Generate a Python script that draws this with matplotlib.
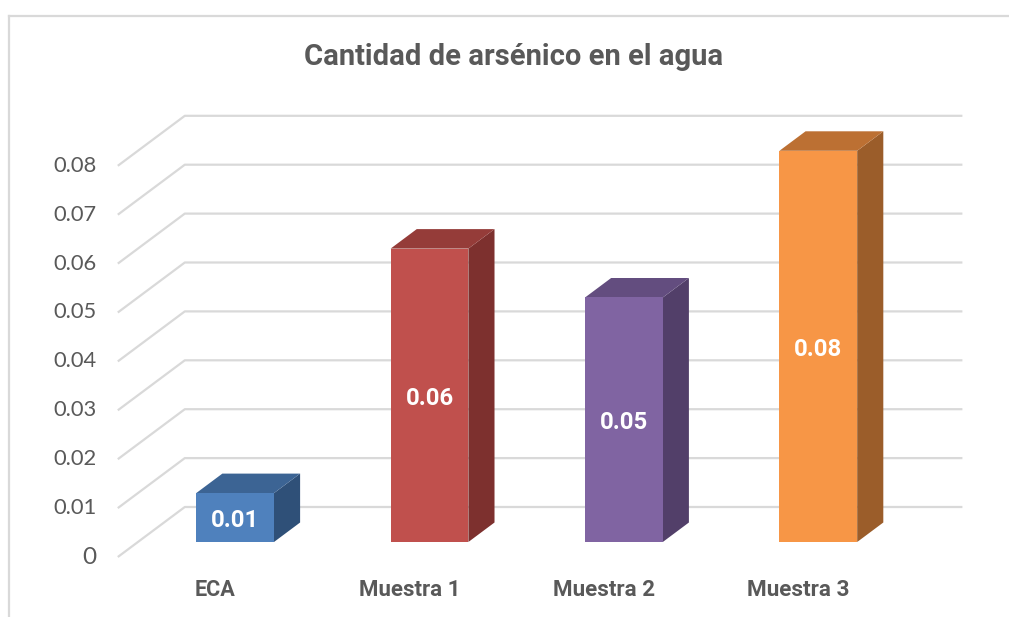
import matplotlib
matplotlib.use("Agg")
import matplotlib.pyplot as plt
from matplotlib.patches import Polygon
from matplotlib.lines import Line2D
import numpy as np

#* chart data
categories = ["ECA", "Muestra 1", "Muestra 2", "Muestra 3"]
values = [0.01, 0.06, 0.05, 0.08]
tickValues = [0, 0.01, 0.02, 0.03, 0.04, 0.05, 0.06, 0.07, 0.08]
tickLabels = ["0", "0.01", "0.02", "0.03", "0.04", "0.05", "0.06", "0.07", "0.08"]
titleText = "Cantidad de arsénico en el agua"

frontColors = ["#4F81BD", "#C0504D", "#8064A2", "#F79646"]
topColors = ["#3C6494", "#953C39", "#634D7F", "#BC7033"]
sideColors = ["#2F5078", "#7D302E", "#523F69", "#9B5D2A"]

W, H = 1009, 617
PX_CAT = 194.4      # pixels per category step
PX_VAL = 4890.0     # pixels per unit of value
X0, Y0 = 215, 557   # pixel of category 0, value 0 at front of floor

#* depth offset of the whole chart (front -> back wall), in data units
DX = 67 / PX_CAT
DY = 50 / PX_VAL
BAR_HALF = 0.2
BAR_D0, BAR_D1 = 0.3, 0.69

FONT = ["Lato", "DejaVu Sans"]
BOLDFONT = ["Roboto", "DejaVu Sans"]
GRAY = "#595959"
GRID = "#D9D9D9"


def proj(c, v, d):
    # project a (category, value, depth) point to the 2D data plane
    return (c + d * DX, v + d * DY)


fig = plt.figure(figsize=(W / 100, H / 100), dpi=100)
ax = fig.add_axes([0, 0, 1, 1])
ax.set_xlim(-X0 / PX_CAT, (W - X0) / PX_CAT)
ax.set_ylim((Y0 - H) / PX_VAL, Y0 / PX_VAL)
ax.axis("off")

#* gridlines: side wall diagonals and back wall horizontals
left, right = -0.5, len(categories) - 0.5
for v in tickValues:
    a = proj(left, v, 0)
    b = proj(left, v, 1)
    c = proj(right, v, 1)
    ax.plot([a[0], b[0], c[0]], [a[1], b[1], c[1]], color=GRID, lw=1.6,
            solid_capstyle="butt", zorder=1)

#* the bars, drawn as three faces each
for i, v in enumerate(values):
    xl, xr = i - BAR_HALF, i + BAR_HALF
    front = [proj(xl, 0, BAR_D0), proj(xr, 0, BAR_D0), proj(xr, v, BAR_D0), proj(xl, v, BAR_D0)]
    top = [proj(xl, v, BAR_D0), proj(xr, v, BAR_D0), proj(xr, v, BAR_D1), proj(xl, v, BAR_D1)]
    side = [proj(xr, 0, BAR_D0), proj(xr, 0, BAR_D1), proj(xr, v, BAR_D1), proj(xr, v, BAR_D0)]
    ax.add_patch(Polygon(side, closed=True, fc=sideColors[i], ec="none", zorder=2))
    ax.add_patch(Polygon(top, closed=True, fc=topColors[i], ec="none", zorder=2))
    ax.add_patch(Polygon(front, closed=True, fc=frontColors[i], ec="none", zorder=3))

#* texts, with the widths they have in the reference
fitList = []
for v, lab in zip(tickValues, tickLabels):
    t = ax.annotate(lab, proj(left, v, 0), xytext=(-21 * 0.72, 0), textcoords="offset points",
                    ha="right", va="center", color=GRAY, fontsize=13, family=FONT)
    fitList.append((t, {"0": 14, "0.01": 43}.get(lab, 43)))

catWidths = [41, 101, 102, 102]
for i, lab in enumerate(categories):
    t = ax.annotate(lab, (i, 0), xytext=(0, -39 * 0.72), textcoords="offset points",
                    ha="center", va="baseline", color=GRAY, fontsize=12,
                    fontweight="bold", family=BOLDFONT)
    fitList.append((t, catWidths[i]))

for i, v in enumerate(values):
    t = ax.annotate("%.2f" % v, proj(i, v / 2, BAR_D0), xytext=(0, -3 * 0.72),
                    textcoords="offset points", ha="center", va="center",
                    color="white", fontsize=14, fontweight="bold", family=BOLDFONT, zorder=5)
    fitList.append((t, 48))

title = fig.text(514 / W, 1 - 65 / H, titleText, ha="center", va="baseline",
                 color=GRAY, fontsize=18, fontweight="bold", family=BOLDFONT)
fitList.append((title, 418))

#* chart border
fig.add_artist(Line2D([9 / W, 1], [1 - 16 / H, 1 - 16 / H], color=GRID, lw=1.6,
                      transform=fig.transFigure))
fig.add_artist(Line2D([9 / W, 9 / W], [0, 1 - 16 / H], color=GRID, lw=1.6,
                      transform=fig.transFigure))

fig.canvas.draw()
renderer = fig.canvas.get_renderer()
for t, target in fitList:
    w = t.get_window_extent(renderer).width
    if w > 0:
        t.set_fontsize(t.get_fontsize() * target / w)

fig.savefig("out.png", dpi=100)
